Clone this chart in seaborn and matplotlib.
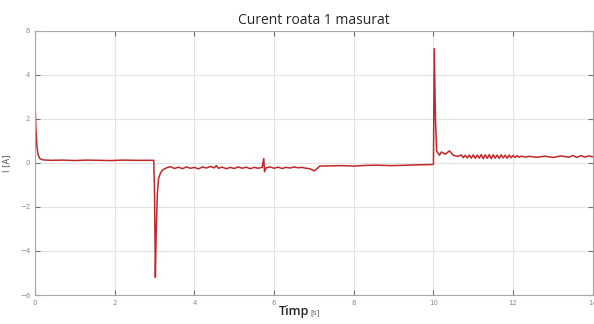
import numpy as np
import pandas as pd
import matplotlib
matplotlib.use('Agg')
import matplotlib.pyplot as plt
import seaborn as sns

# curent masurat roata 1
timp = [0.0, 0.02, 0.05, 0.08, 0.12, 0.2, 0.4, 0.7, 1.0, 1.3, 1.6, 1.9, 2.2, 2.5, 2.8, 2.98,
        3.0, 3.02, 3.04, 3.07, 3.1, 3.15, 3.2, 3.3, 3.4, 3.5, 3.6, 3.7, 3.8, 3.9, 4.0,
        4.1, 4.2, 4.3, 4.4, 4.5, 4.55, 4.6, 4.7, 4.8, 4.9, 5.0, 5.1, 5.2, 5.3, 5.4, 5.5,
        5.6, 5.7, 5.74, 5.76, 5.8, 5.9, 6.0, 6.1, 6.2, 6.3, 6.4, 6.5, 6.6, 6.7, 6.8, 6.9,
        7.0, 7.05, 7.15, 7.4, 7.7, 8.0, 8.3, 8.6, 8.9, 9.2, 9.5, 9.8, 9.98,
        10.0, 10.02, 10.05, 10.08, 10.15, 10.2, 10.3, 10.4, 10.5, 10.6, 10.7, 10.75, 10.8,
        10.85, 10.9, 10.95, 11.0, 11.05, 11.1, 11.15, 11.2, 11.25, 11.3, 11.35, 11.4, 11.45,
        11.5, 11.55, 11.6, 11.65, 11.7, 11.75, 11.8, 11.85, 11.9, 11.95, 12.0, 12.05, 12.1,
        12.15, 12.2, 12.3, 12.4, 12.6, 12.8, 13.0, 13.2, 13.4, 13.5, 13.6, 13.7, 13.8, 13.9, 14.0]
curent = [2.7, 1.6, 0.7, 0.35, 0.2, 0.14, 0.12, 0.13, 0.11, 0.13, 0.12, 0.11, 0.13, 0.12, 0.12, 0.12,
          -1.5, -5.2, -3.2, -1.4, -0.7, -0.45, -0.32, -0.22, -0.17, -0.25, -0.19, -0.26, -0.18, -0.24, -0.2,
          -0.27, -0.18, -0.23, -0.16, -0.22, -0.12, -0.24, -0.19, -0.26, -0.2, -0.25, -0.18, -0.24, -0.19, -0.26, -0.2,
          -0.24, -0.2, 0.2, -0.4, -0.22, -0.18, -0.24, -0.19, -0.25, -0.2, -0.23, -0.18, -0.22, -0.2, -0.24, -0.26,
          -0.36, -0.3, -0.14, -0.13, -0.12, -0.14, -0.11, -0.1, -0.12, -0.11, -0.09, -0.08, -0.07,
          -0.05, 5.2, 2.0, 0.55, 0.35, 0.5, 0.4, 0.55, 0.35, 0.3, 0.36, 0.24, 0.35,
          0.23, 0.36, 0.22, 0.37, 0.21, 0.36, 0.22, 0.38, 0.2, 0.37, 0.21, 0.38, 0.2,
          0.37, 0.22, 0.36, 0.21, 0.37, 0.23, 0.35, 0.22, 0.36, 0.24, 0.34, 0.25, 0.33,
          0.26, 0.31, 0.27, 0.3, 0.26, 0.31, 0.25, 0.32, 0.26, 0.34, 0.25, 0.33, 0.27, 0.32, 0.28]

df = pd.DataFrame({'timp': timp, 'curent': curent})

sns.set_style('whitegrid')
fig = plt.figure(figsize=(5.94, 3.24), dpi=100)
ax = fig.add_axes([0.059, 0.0895, 0.939, 0.815])

sns.lineplot(data=df, x='timp', y='curent', ax=ax, color='#c0282a', linewidth=1.1)

ax.set_xlim(0, 14)
ax.set_ylim(-6, 6)
ax.set_xticks(range(0, 15, 2))
ax.set_yticks(range(-6, 7, 2))
ax.grid(True, color='#e3e3e3', linewidth=0.8)
for s in ax.spines.values():
    s.set_color('#a8a8a8')
    s.set_linewidth(0.8)
ax.tick_params(direction='in', length=3.5, width=0.8, color='#707070',
               labelsize=5, labelcolor='#8a8a8a', top=True, right=True,
               labeltop=False, labelright=False, bottom=True, left=True)

ax.set_xlabel('')
ax.set_ylabel('I [A]', fontsize=6, color='#555555', labelpad=6)
ax.set_title('Curent roata 1 masurat', fontsize=10, family='Open Sans', pad=5)

fig.text(0.52, 0.02, 'Timp', fontsize=9, family='Open Sans', weight='semibold',
         color='#222222', ha='right', va='bottom')
fig.text(0.522, 0.023, '[s]', fontsize=6, family='Open Sans', color='#555555', ha='left', va='bottom')

fig.savefig('out.png', dpi=100)
